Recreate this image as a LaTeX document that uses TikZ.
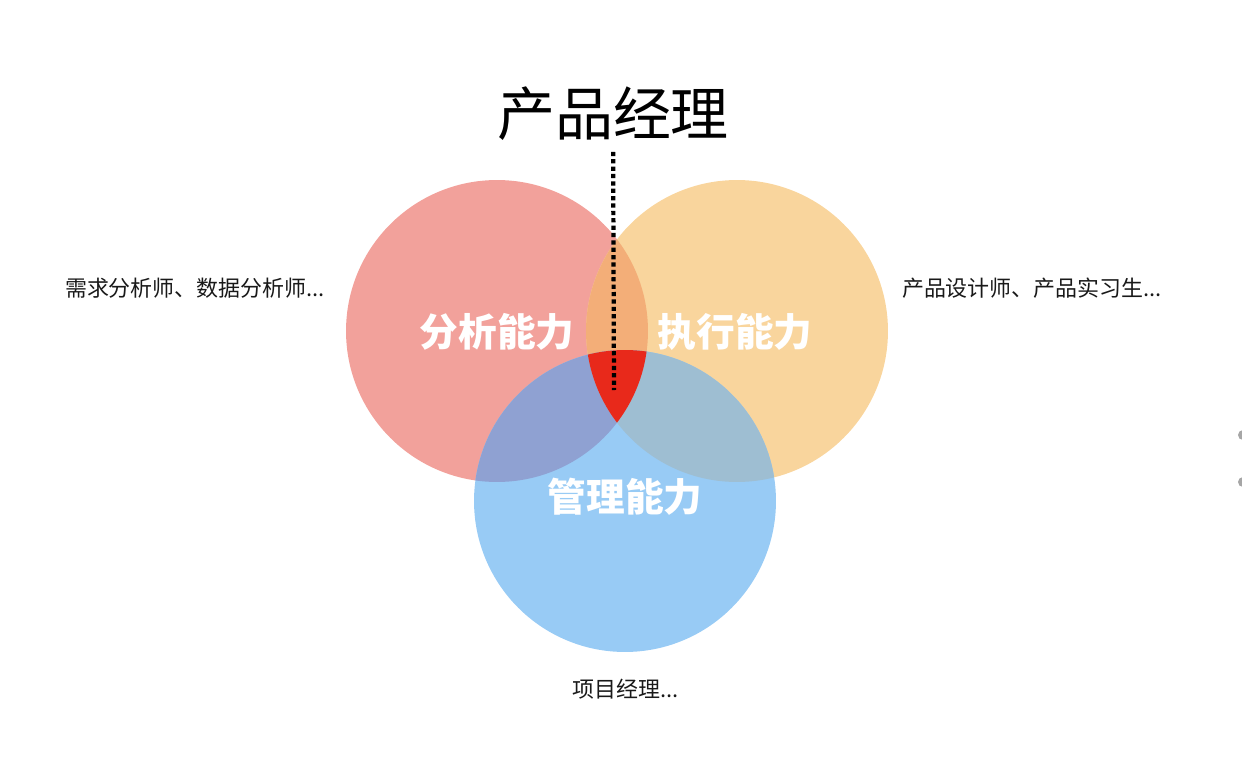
\documentclass[tikz,border=0pt]{standalone}
\usepackage{fontspec}
\setmainfont{Noto Sans CJK SC}
\usepackage{xcolor}
\usetikzlibrary{positioning}

\definecolor{cRed}{HTML}{F2A19B}
\definecolor{cOrange}{HTML}{F9D59D}
\definecolor{cBlue}{HTML}{98CBF5}
\definecolor{cRO}{HTML}{F3AE78}
\definecolor{cRB}{HTML}{8FA1D2}
\definecolor{cOB}{HTML}{9EBED2}
\definecolor{cCore}{HTML}{E8291B}

\begin{document}
\begin{tikzpicture}[
  x=0.02cm, y=-0.02cm,
  ring/.style={circle, minimum size=6.04cm, inner sep=0pt},
  skill/.style={text=white, font=\bfseries\fontsize{22}{26}\selectfont},
  role/.style={text=black!90, font=\fontsize{12.5}{15}\selectfont},
  title/.style={inner sep=6pt, font=\fontsize{33}{38}\selectfont},
  dotline/.style={line width=2.4pt, dash pattern=on 2.4pt off 1.8pt}
]
  \useasboundingbox (0,0) rectangle (1242,771);

  % three circles
  \node[ring, fill=cRed] (fx) at (497,331) {};
  \node[ring, fill=cOrange] (zx) at (737,331) {};
  \node[ring, fill=cBlue] (gl) at (625,501) {};

  % overlaps
  \begin{scope}
    \clip (fx.center) circle[radius=3.02cm];
    \fill[cRO] (zx.center) circle[radius=3.02cm];
    \fill[cRB] (gl.center) circle[radius=3.02cm];
  \end{scope}
  \begin{scope}
    \clip (zx.center) circle[radius=3.02cm];
    \fill[cOB] (gl.center) circle[radius=3.02cm];
    \clip (fx.center) circle[radius=3.02cm];
    \fill[cCore] (gl.center) circle[radius=3.02cm];
  \end{scope}

  % labels
  \node[skill] (fxl) at (497,332) {分析能力};
  \node[skill] (zxl) at (735,332) {执行能力};
  \node[skill] (gll) at (625,497) {管理能力};

  \node[role] (left) at (195,288) {需求分析师、数据分析师...};
  \node[role] (right) at (1032,288) {产品设计师、产品实习生...};
  \node[role] (bottom) at (626,689) {项目经理...};

  \node[title] (pm) at (613,114) {产品经理};
  \coordinate (tip) at (614,390);
  \draw[dotline] (pm) -- (tip);

  % edge dots
  \fill[gray!70] (1243,435) circle[radius=0.1cm];
  \fill[gray!70] (1243,482) circle[radius=0.1cm];
\end{tikzpicture}
\end{document}
